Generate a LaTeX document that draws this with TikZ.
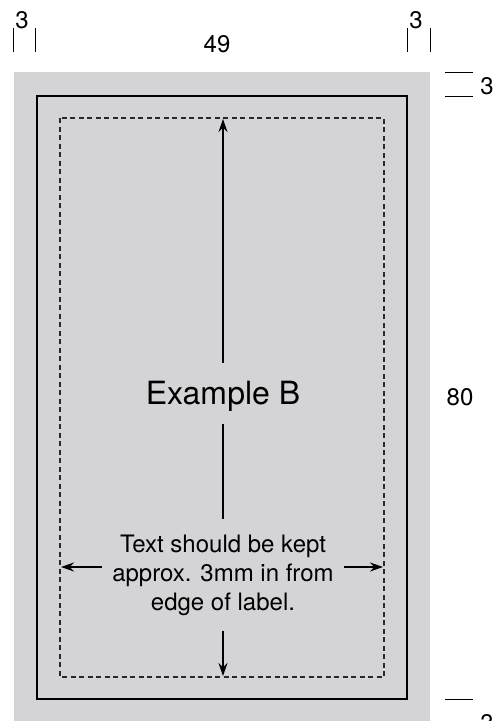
\documentclass[tikz,border=0pt]{standalone}
\usepackage{fontspec}
\setmainfont{TeX Gyre Heros}
\usepackage{xcolor}
\usetikzlibrary{arrows.meta}
\usetikzlibrary{positioning}
\definecolor{bleed}{RGB}{212,212,214}
\definecolor{safe}{RGB}{40,40,40}

\begin{document}
\begin{tikzpicture}[x=1pt, y=-1pt,
        dim/.style={font=\fontsize{24}{29}\selectfont, inner sep=0pt, anchor=base},
        arr/.style={line width=1.1pt, -{Stealth[length=13pt,width=9pt]}},
        tick/.style={line width=1pt}]
        \useasboundingbox (0,0) rectangle (501,721);
        % label areas
        \fill[bleed] (14,72) rectangle (430,721);
        \draw[line width=2.4pt] (37,96) rectangle (407,699);
        \draw[safe, line width=1.2pt, dash pattern=on 5pt off 3.5pt] (60,118) rectangle (384,677);

        % nodes (texts)
        \node[dim, font=\fontsize{32}{38}\selectfont, text height=41pt, text depth=20pt] (title) at (223,404) {Example B};
        \node[align=center, font=\fontsize{24}{29}\selectfont, inner xsep=10pt, inner ysep=15pt] (note) at (223,575) {Text should be kept\\approx. 3mm in from\\edge of label.};
        \coordinate (topTip) at (223,119);
        \coordinate (botTip) at (223,676);
        \coordinate (lTip) at (61,567);
        \coordinate (rTip) at (383,567);

        % edges (arrows)
        \draw[arr] (title) -- (topTip);
        \draw[line width=1.1pt] (title) -- (note);
        \draw[arr] (note) -- (botTip);
        \draw[arr] (note.west |- lTip) -- (lTip);
        \draw[arr] (note.east |- rTip) -- (rTip);

        % nodes (dimensions)
        \node[dim] (w1) at (22,28) {3};
        \node[dim] (w49) at (217,52) {49};
        \node[dim] (w2) at (416,28) {3};
        \node[dim] (h1) at (487,94) {3};
        \node[dim] (h80) at (460,405) {80};
        \node[dim] (h2) at (487,731) {3};

        % ticks
        \draw[tick] (13,28) -- (13,52);
        \draw[tick] (35,28) -- (35,52);
        \draw[tick] (407,28) -- (407,52);
        \draw[tick] (430,28) -- (430,52);
        \draw[tick] (445,72) -- (473,72);
        \draw[tick] (445,96) -- (473,96);
        \draw[tick] (445,699) -- (473,699);
\end{tikzpicture}
\end{document}
